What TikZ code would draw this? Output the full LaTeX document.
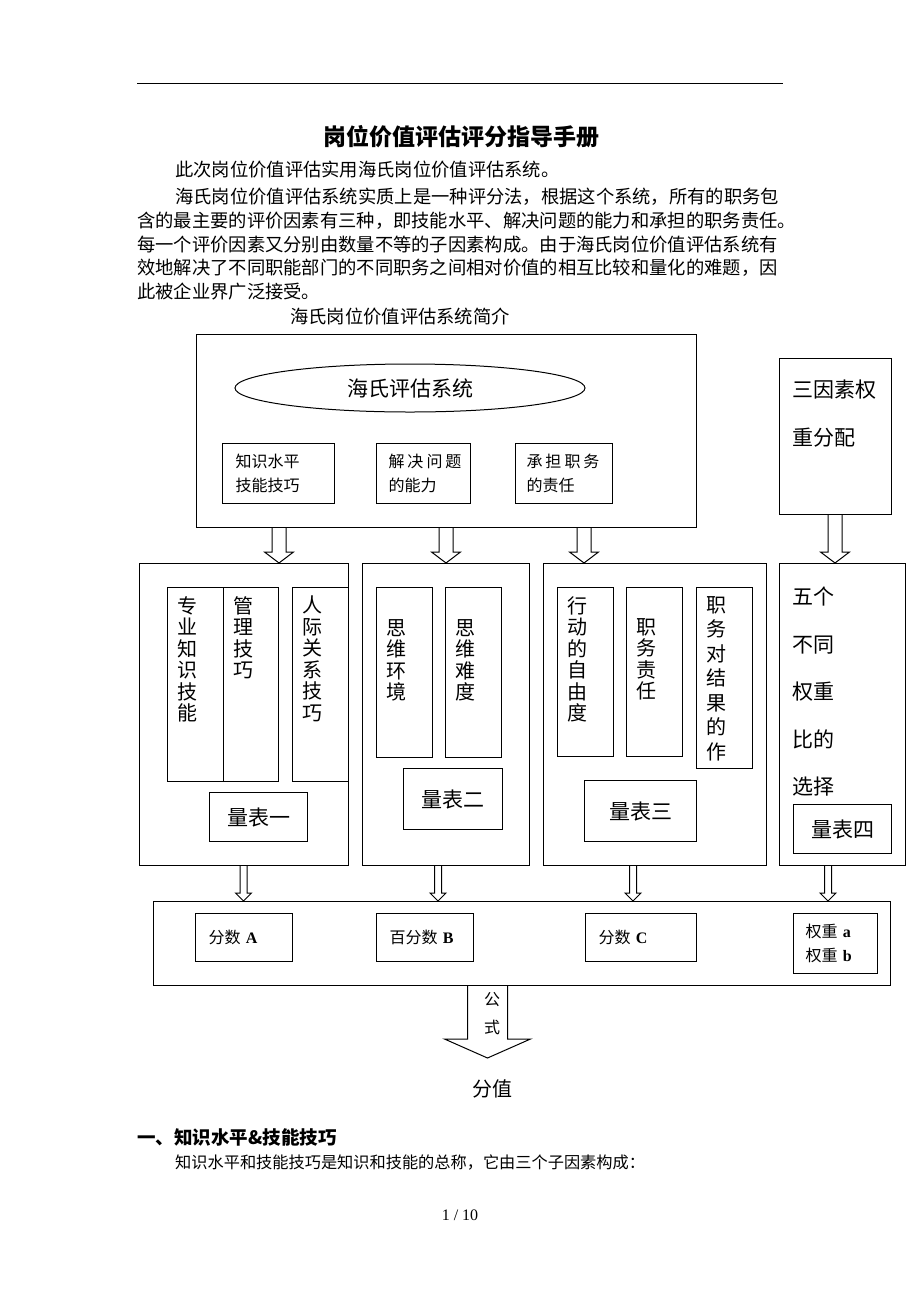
\documentclass[tikz,border=0pt]{standalone}
\usepackage{fontspec}
\setmainfont{Liberation Serif}
\newfontfamily\cjk{Noto Sans CJK SC}
\usetikzlibrary{positioning}
\usetikzlibrary{shapes.geometric}
\usetikzlibrary{calc}
\newcommand{\setfs}[2]{\fontsize{#1}{#2}\selectfont}
\newcommand{\latb}[1]{{\rmfamily\bfseries #1}}

\begin{document}
\begin{tikzpicture}[
                x = 1pt, y = -1pt,
                box/.style 2 args = {
                    draw,
                    line width = 1pt,
                    inner sep = 0pt,
                    anchor = north west,
                    minimum width = #1,
                    minimum height = #2
                },
                small/.style = {
                    align = left,
                    text width = #1,
                    font = \cjk\setfs{16}{24}
                },
                txt/.style = {
                    inner sep = 0pt,
                    font = \cjk\setfs{18.3}{24}
                },
                vtxt/.style = {
                    inner sep = 0pt,
                    align = left,
                    font = \cjk\setfs{20}{#1}
                },
                vtxt/.default = 21.5,
                big/.style = {font = \cjk\setfs{21}{24}},
                hollow/.style n args = {3}{
                    line width = 1pt,
                    to path = {
                        let \p1 = (\tikztostart), \p2 = (\tikztotarget) in
                        (\x1-#1,\y1) -- (\x1-#1,\y2+#3) -- (\x1-#2,\y2+#3) -- (\x1,\y2)
                        -- (\x1+#2,\y2+#3) -- (\x1+#1,\y2+#3) -- (\x1+#1,\y1)
                    }
                }
            ]
            \useasboundingbox (0,0) rectangle (920,1302);
            %
            % page text
            \draw[line width = 1pt] (137,83) -- (783,83);
            \node[txt, font = \cjk\bfseries\setfs{23}{28}] (title) at (461,137) {岗位价值评估评分指导手册};
            \node[txt, anchor = west] (p1) at (175,170) {此次岗位价值评估实用海氏岗位价值评估系统。};
            \node[txt, anchor = west] (p2) at (175,197) {海氏岗位价值评估系统实质上是一种评分法，根据这个系统，所有的职务包};
            \node[txt, anchor = west] (p3) at (137,221) {含的最主要的评价因素有三种，即技能水平、解决问题的能力和承担的职务责任。};
            \node[txt, anchor = west] (p4) at (137,245) {每一个评价因素又分别由数量不等的子因素构成。由于海氏岗位价值评估系统有};
            \node[txt, anchor = west] (p5) at (137,268) {效地解决了不同职能部门的不同职务之间相对价值的相互比较和量化的难题，因};
            \node[txt, anchor = west] (p6) at (137,292) {此被企业界广泛接受。};
            \node[txt] (cap) at (400,317) {海氏岗位价值评估系统简介};
            %
            % top row
            \node[box = {500}{193}] (sys) at (196,334) {};
            \node[draw, ellipse, line width = 1pt, inner sep = 0pt, minimum width = 350, minimum height = 48, big] (hay) at (410,388) {海氏评估系统};
            \node[box = {112}{60}, small = 86] (k1) at (222,443) {知识水平\\技能技巧};
            \node[box = {94}{60}, small = 70] (k2) at (376,443) {解\kern3pt 决\kern3pt 问\kern3pt 题\\的能力};
            \node[box = {97}{60}, small = 75] (k3) at (515,443) {承\kern3pt 担\kern3pt 职\kern3pt 务\\的责任};
            %
            \node[box = {112}{156}] (wt) at (779,358) {};
            \node[txt, big, align = left, anchor = west, font = \cjk\setfs{21}{48}] (wtt) at (792,414) {三因素权\\重分配};
            %
            % middle row
            \node[box = {209}{302}] (m1) at (139,563) {};
            \node[box = {167}{302}] (m2) at (362,563) {};
            \node[box = {223}{302}] (m3) at (543,563) {};
            \node[box = {126}{302}] (m4) at (779,563) {};
            %
            \node[box = {56}{194}] (c11) at (167,587) {};
            \node[box = {55}{194}] (c12) at (223,587) {};
            \node[box = {56}{194}] (c13) at (292,587) {};
            \node[vtxt, below right = 9pt and 10pt of c11.north west] (t11) {专\\业\\知\\识\\技\\能};
            \node[vtxt, below right = 9pt and 10pt of c12.north west] (t12) {管\\理\\技\\巧};
            \node[vtxt, below right = 9pt and 10pt of c13.north west] (t13) {人\\际\\关\\系\\技\\巧};
            \node[box = {98}{49}, big] (s1) at (209,792) {量表一};
            %
            \node[box = {56}{170}] (c21) at (376,587) {};
            \node[box = {56}{170}] (c22) at (445,587) {};
            \node[vtxt, below right = 32pt and 10pt of c21.north west] (t21) {思\\维\\环\\境};
            \node[vtxt, below right = 32pt and 10pt of c22.north west] (t22) {思\\维\\难\\度};
            \node[box = {99}{61}, big] (s2) at (403,768) {量表二};
            %
            \node[box = {56}{169}] (c31) at (557,587) {};
            \node[box = {56}{169}] (c32) at (626,587) {};
            \node[box = {56}{181}] (c33) at (696,587) {};
            \node[vtxt, below right = 9pt and 10pt of c31.north west] (t31) {行\\动\\的\\自\\由\\度};
            \node[vtxt, below right = 31pt and 10pt of c32.north west] (t32) {职\\务\\责\\任};
            \node[vtxt = 24.5, below right = 9pt and 10pt of c33.north west] (t33) {职\\务\\对\\结\\果\\的\\作};
            \node[box = {112}{61}, big] (s3) at (584,780) {量表三};
            %
            \node[txt, align = left, anchor = west, font = \cjk\setfs{21}{47.5}] (m4t) at (792,692) {五个\\不同\\权重\\比的\\选择};
            \node[box = {98}{49}, big] (s4) at (793,804) {量表四};
            %
            % bottom row
            \node[box = {737}{84}] (sc) at (153,901) {};
            \node[box = {97}{48}, small = 71] (bA) at (195,913) {分数 \latb{A}};
            \node[box = {97}{48}, small = 71] (bB) at (376,913) {百分数 \latb{B}};
            \node[box = {111}{48}, small = 85] (bC) at (585,913) {分数 \latb{C}};
            \node[box = {84}{60}, small = 60] (bW) at (793,913) {权重 \latb{a}\\权重 \latb{b}};
            %
            % arrows
            \coordinate (f1) at (279,0);
            \coordinate (f2) at (446,0);
            \coordinate (f3) at (584,0);
            \coordinate (f4) at (835,0);
            \coordinate (g1) at (243.5,0);
            \coordinate (g2) at (438,0);
            \coordinate (g3) at (633,0);
            \coordinate (g4) at (828,0);
            \draw[hollow = {7pt}{14.5pt}{11pt}] (f1 |- sys.south) to (f1 |- m1.north);
            \draw[hollow = {7pt}{14.5pt}{11pt}] (f2 |- sys.south) to (f2 |- m2.north);
            \draw[hollow = {7pt}{14.5pt}{11pt}] (f3 |- sys.south) to (f3 |- m3.north);
            \draw[hollow = {7pt}{14.5pt}{11pt}] (f4 |- wt.south) to (f4 |- m4.north);
            %
            \draw[hollow = {3.5pt}{8pt}{8pt}] (g1 |- m1.south) to (g1 |- sc.north);
            \draw[hollow = {3.5pt}{8pt}{8pt}] (g2 |- m2.south) to (g2 |- sc.north);
            \draw[hollow = {3.5pt}{8pt}{8pt}] (g3 |- m3.south) to (g3 |- sc.north);
            \draw[hollow = {3.5pt}{8pt}{8pt}] (g4 |- m4.south) to (g4 |- sc.north);
            %
            \coordinate (tip) at (487.5,1058);
            \draw[hollow = {20pt}{43pt}{19pt}] (tip |- sc.south) to (tip);
            \node[txt, align = center, font = \cjk\setfs{16}{28}] (fml) at (492,1014) {公\\式};
            \node[txt, font = \cjk\setfs{20}{24}] (val) at (492,1089) {分值};
            %
            % section text
            \node[txt, anchor = west, font = \cjk\bfseries\setfs{18.5}{24}] (sec) at (137,1137) {一、知识水平\&技能技巧};
            \node[txt, anchor = west, font = \cjk\setfs{16.2}{24}] (sect) at (175,1162) {知识水平和技能技巧是知识和技能的总称，它由三个子因素构成：};
            \node[inner sep = 0pt, font = \rmfamily\setfs{16}{20}] (pg) at (460,1215) {1 / 10};
            %
        \end{tikzpicture}
\end{document}
